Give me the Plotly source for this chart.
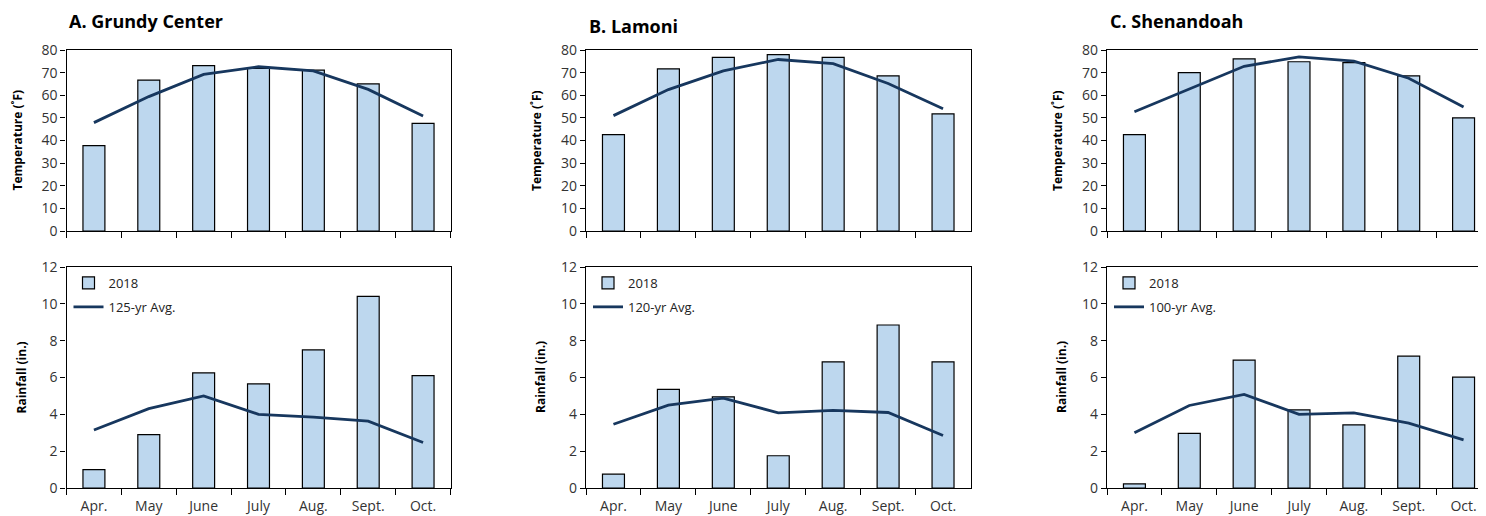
import plotly.graph_objects as go

months = ["Apr.", "May", "June", "July", "Aug.", "Sept.", "Oct."]
sites = ["A. Grundy Center", "B. Lamoni", "C. Shenandoah"]
avg_labels = ["125-yr Avg.", "120-yr Avg.", "100-yr Avg."]

temp_2018_A = [37.7, 66.7, 73.1, 71.9, 71.1, 65.0, 47.6]
temp_avg_A = [47.9, 59.4, 69.2, 72.6, 70.8, 62.6, 50.8]
rain_2018_A = [1.0, 2.9, 6.25, 5.65, 7.5, 10.4, 6.1]
rain_avg_A = [3.15, 4.31, 5.0, 4.0, 3.85, 3.63, 2.47]

temp_2018_B = [42.6, 71.7, 76.7, 78.0, 76.7, 68.6, 51.8]
temp_avg_B = [51.0, 62.5, 70.8, 75.8, 74.0, 65.2, 54.0]
rain_2018_B = [0.75, 5.35, 4.95, 1.75, 6.85, 8.85, 6.85]
rain_avg_B = [3.46, 4.5, 4.88, 4.08, 4.22, 4.1, 2.85]

temp_2018_C = [42.6, 70.0, 76.1, 74.8, 74.4, 68.6, 50.0]
temp_avg_C = [52.7, 62.8, 72.8, 77.0, 75.1, 67.5, 54.8]
rain_2018_C = [0.22, 2.97, 6.94, 4.24, 3.43, 7.16, 6.02]
rain_avg_C = [3.0, 4.48, 5.08, 4.0, 4.08, 3.52, 2.61]

temps_2018 = [temp_2018_A, temp_2018_B, temp_2018_C]
temps_avg = [temp_avg_A, temp_avg_B, temp_avg_C]
rains_2018 = [rain_2018_A, rain_2018_B, rain_2018_C]
rains_avg = [rain_avg_A, rain_avg_B, rain_avg_C]

W, H = 1486, 516
OFF = 8  # page body margin offset
BAR = "#BDD7EE"
LINE = "#17375E"
FONT = "Open Sans"
TICKC = "#333333"

# pixel geometry in screen coordinates
xpix = [(66.5, 450.5), (586, 970.5), (1107, 1491)]
ypix = [(50, 231), (267, 488)]

def px_x(p):
    return (p - OFF) / W

def px_y(p):
    return 1 - (p - OFF) / H

fig = go.Figure()
layout = dict(
    template="none",
    width=W, height=H,
    margin=dict(l=0, r=0, t=0, b=0, pad=0, autoexpand=False),
    plot_bgcolor="white", paper_bgcolor="white",
    font=dict(family=FONT, size=13, color=TICKC),
    bargap=0.6,
    showlegend=True,
    annotations=[],
)

idx = 0
for c in range(3):
    x0, x1 = xpix[c]
    vis_right = W + OFF
    for r in range(2):
        idx += 1
        xa = "x" if idx == 1 else f"x{idx}"
        ya = "y" if idx == 1 else f"y{idx}"
        if r == 0:
            bars, line = temps_2018[c], temps_avg[c]
        else:
            bars, line = rains_2018[c], rains_avg[c]
        legname = "legend" if c == 0 else f"legend{c+1}"
        fig.add_trace(go.Bar(
            x=months, y=bars, xaxis=xa, yaxis=ya, name="2018",
            marker=dict(color=BAR, line=dict(color="black", width=1.2)),
            showlegend=(r == 1), legend=legname, legendgroup=f"bar{c}",
        ))
        fig.add_trace(go.Scatter(
            x=months, y=line, xaxis=xa, yaxis=ya, mode="lines",
            name=avg_labels[c], line=dict(color=LINE, width=2.8),
            showlegend=(r == 1), legend=legname, legendgroup=f"line{c}",
        ))
        xkey = "xaxis" if idx == 1 else f"xaxis{idx}"
        ykey = "yaxis" if idx == 1 else f"yaxis{idx}"
        t, b = ypix[r]
        right = min(x1, vis_right)
        xmax = 6.5 - 7 * (x1 - right) / (x1 - x0)
        layout[xkey] = dict(
            domain=[px_x(x0), px_x(right)], anchor=ya,
            type="category", categoryorder="array", categoryarray=months,
            range=[-0.5, xmax],
            showline=True, linecolor="black", linewidth=1.3, mirror=True,
            ticks="outside", tickson="boundaries", ticklen=6, tickcolor="black",
            tickwidth=1.2, automargin=False, ticklabelstandoff=5,
            showticklabels=(r == 1), tickfont=dict(size=14, color=TICKC),
            showgrid=False, zeroline=False, fixedrange=True,
        )
        layout[ykey] = dict(
            domain=[px_y(b), px_y(t)], anchor=xa,
            range=[0, 80] if r == 0 else [0, 12],
            dtick=10 if r == 0 else 2, tick0=0,
            showline=True, linecolor="black", linewidth=1.3,
            mirror=(c != 2), automargin=False,
            ticks="outside", ticklen=5, tickcolor="black", tickwidth=1.2,
            tickfont=dict(size=14, color=TICKC),
            showgrid=False, zeroline=False, fixedrange=True,
        )
        # y-axis title
        ytitle = "Temperature (˚F)" if r == 0 else "Rainfall (in.)"
        xoff = 17 if r == 0 else 21
        layout["annotations"].append(dict(
            text=f"<b>{ytitle}</b>", textangle=-90,
            x=px_x(x0 - 66.5 + xoff), y=px_y((t + b) / 2),
            xref="paper", yref="paper", xanchor="center", yanchor="middle",
            showarrow=False, font=dict(family=FONT, size=12, color="black"),
        ))
    # legend for this site
    legname = "legend" if c == 0 else f"legend{c+1}"
    layout[legname] = dict(
        x=px_x(x0 + 2), y=px_y(268), xanchor="left", yanchor="top",
        bgcolor="rgba(0,0,0,0)", font=dict(family=FONT, size=13, color="#222222"),
        itemwidth=30, tracegroupgap=4, traceorder="grouped",
    )
    # panel title
    ty = [21, 26, 21][c]
    layout["annotations"].append(dict(
        text=f"<b>{sites[c]}</b>", x=px_x(x0 + 0.5), y=px_y(ty),
        xref="paper", yref="paper", xanchor="left", yanchor="middle",
        showarrow=False, font=dict(family=FONT, size=18, color="black"),
    ))

fig.update_layout(**layout)
fig.write_html("out.html")
